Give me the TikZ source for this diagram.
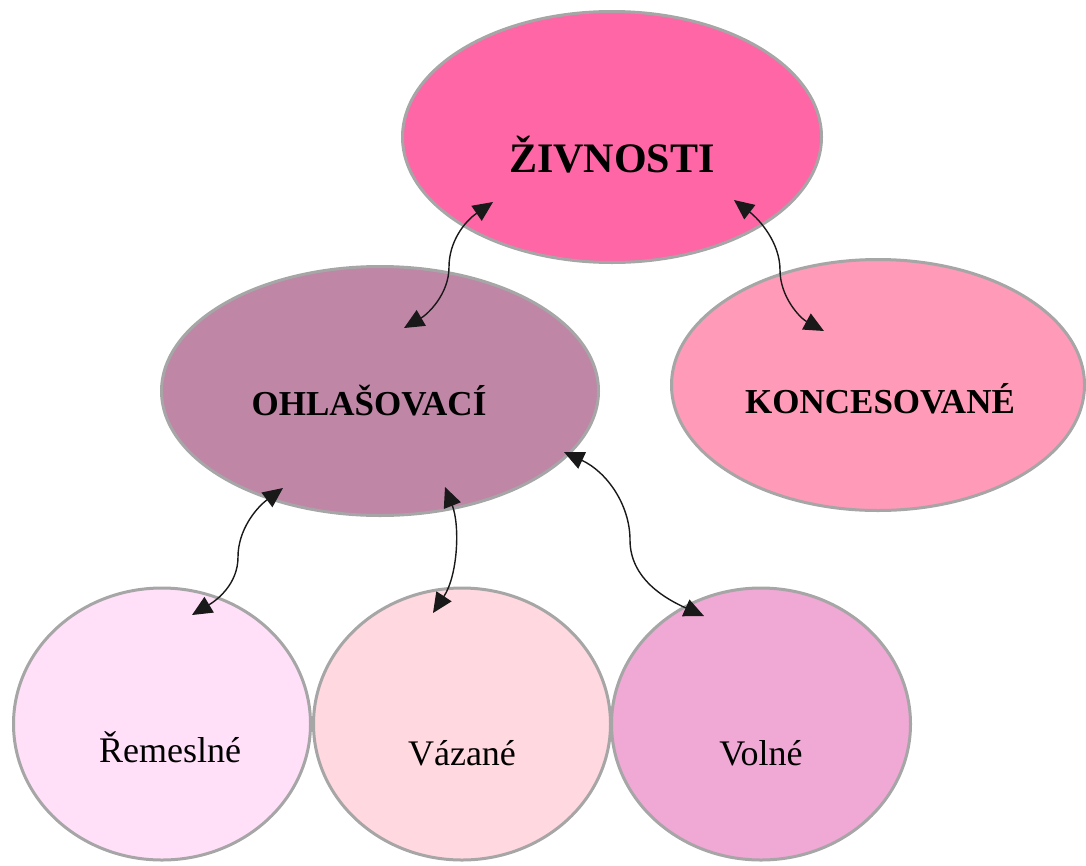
\documentclass[tikz,border=0pt]{standalone}
\usepackage{fontspec}
\setmainfont{Liberation Serif}
\usetikzlibrary{shapes.geometric,arrows.meta,calc}
\definecolor{zivfill}{HTML}{FF66A6}
\definecolor{ohlfill}{HTML}{BF86A6}
\definecolor{konfill}{HTML}{FF9AB8}
\definecolor{remfill}{HTML}{FFE0F8}
\definecolor{vazfill}{HTML}{FFD8E0}
\definecolor{volfill}{HTML}{F0A8D4}
\definecolor{rim}{HTML}{A6A6A6}
\tikzset{
  blob/.style={ellipse, draw=rim, line width=3pt, inner sep=0pt},
  head/.style={font=\fontsize{42}{48}\selectfont\bfseries, anchor=base, inner sep=0pt},
  mid/.style={font=\fontsize{35}{40}\selectfont\bfseries, anchor=base, inner sep=0pt},
  leaf/.style={font=\fontsize{36}{42}\selectfont, anchor=base, inner sep=0pt},
  link/.style={line width=1.4pt, draw=black!90,
    {Triangle[length=20pt,width=18pt]}-{Triangle[length=20pt,width=18pt]}}
}
\begin{document}
\begin{tikzpicture}[x=1pt,y=-1pt]
\useasboundingbox (0,0) rectangle (1086,865);
% top level
\node[blob, fill=zivfill, minimum width=419, minimum height=251] (ziv) at (612,137) {};
% second level
\node[blob, fill=ohlfill, minimum width=437, minimum height=249] (ohl) at (380,391) {};
\node[blob, fill=konfill, minimum width=413, minimum height=251] (kon) at (878,385) {};
% third level
\node[blob, fill=remfill, minimum width=297, minimum height=272] (rem) at (162,724) {};
\node[blob, fill=vazfill, minimum width=297, minimum height=272] (vaz) at (462,724) {};
\node[blob, fill=volfill, minimum width=299, minimum height=272] (vol) at (761,724) {};
% labels
\node[head] (tziv) at ($(ziv.center)+(0,35)$) {ŽIVNOSTI};
\node[mid]  (tohl) at ($(ohl.center)+(-11,24)$) {OHLAŠOVACÍ};
\node[mid]  (tkon) at ($(kon.center)+(2,28)$) {KONCESOVANÉ};
\node[leaf] (trem) at ($(rem.center)+(8,38)$) {Řemeslné};
\node[leaf] (tvaz) at ($(vaz.center)+(0,41)$) {Vázané};
\node[leaf] (tvol) at ($(vol.center)+(0,41)$) {Volné};
% connector ends
\coordinate (z1) at (493,202);
\coordinate (o1) at (404,328);
\coordinate (z2) at (734,200);
\coordinate (k1) at (824,331);
\coordinate (o2) at (283,488);
\coordinate (r1) at (192,615);
\coordinate (o3) at (445,487);
\coordinate (v1) at (433,613);
\coordinate (o4) at (564,452);
\coordinate (w1) at (704,616);
% connectors
\draw[link] (z1) .. controls (464,222) and (449,242) .. (449,267)
                 .. controls (449,294) and (428,314) .. (o1);
\draw[link] (z2) .. controls (760,220) and (780,243) .. (780,270)
                 .. controls (780,297) and (800,318) .. (k1);
\draw[link] (o2) .. controls (256,508) and (238,530) .. (238,557)
                 .. controls (238,584) and (217,600) .. (r1);
\draw[link] (o3) .. controls (460,525) and (458,575) .. (v1);
\draw[link] (o4) .. controls (607,472) and (630,505) .. (630,540)
                 .. controls (630,580) and (668,600) .. (w1);
\end{tikzpicture}
\end{document}
